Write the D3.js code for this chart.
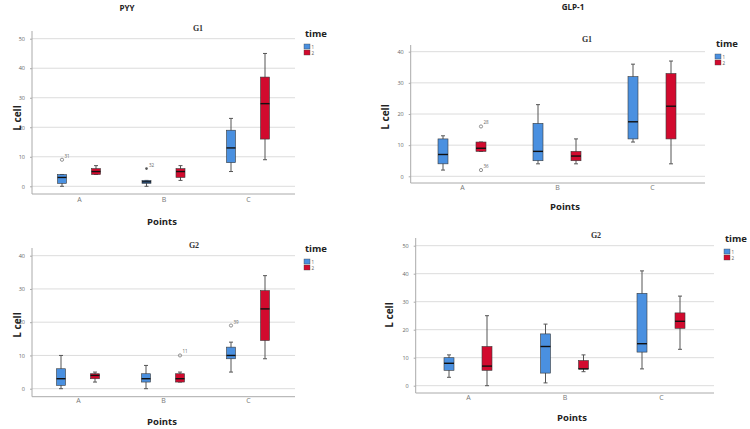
<!DOCTYPE html>
<html>
<head>
<meta charset="utf-8">
<script src="https://cdn.jsdelivr.net/npm/d3@7"></script>
<style>
  body { margin: 0; background: #fff; }
  svg text { font-family: "Open Sans", "Liberation Sans", sans-serif; }
</style>
</head>
<body>
<svg id="plot"></svg>
<script>
// data: boxes as [min, q1, median, q3, max]
const categories = ["A", "B", "C"];
const timeLevels = ["1", "2"];

const pyyG1Time1 = [[0, 1, 3, 4, 4], [0, 1, 1.5, 2, 2], [5, 8, 13, 19, 23]];
const pyyG1Time2 = [[4, 4, 5, 6, 7], [2, 3, 5, 6, 7], [9, 16, 28, 37, 45]];
const pyyG1Outliers = [
    { cat: "A", time: "1", value: 9, label: "31", mark: "o" },
    { cat: "B", time: "1", value: 6, label: "32", mark: "*" }
];
const pyyG1Ticks = [0, 10, 20, 30, 40, 50];

const pyyG2Time1 = [[0, 1, 3, 6, 10], [0, 2, 3, 4.5, 7], [5, 9, 10, 12.5, 14]];
const pyyG2Time2 = [[2, 3, 4, 4.5, 5], [2, 2, 3, 4.5, 5], [9, 14.5, 24, 29.5, 34]];
const pyyG2Outliers = [
    { cat: "B", time: "2", value: 10, label: "11", mark: "o" },
    { cat: "C", time: "1", value: 19, label: "39", mark: "o" }
];
const pyyG2Ticks = [0, 10, 20, 30, 40];

const glpG1Time1 = [[2, 4, 7, 12, 13], [4, 5, 8, 17, 23], [11, 12, 17.5, 32, 36]];
const glpG1Time2 = [[8, 8, 9, 11, 11], [4, 5, 6.5, 8, 12], [4, 12, 22.5, 33, 37]];
const glpG1Outliers = [
    { cat: "A", time: "2", value: 16, label: "28", mark: "o" },
    { cat: "A", time: "2", value: 2, label: "36", mark: "o" }
];
const glpG1Ticks = [0, 10, 20, 30, 40];

const glpG2Time1 = [[3, 5.5, 8, 10, 11], [1, 4.5, 14, 18.5, 22], [6, 12, 15, 33, 41]];
const glpG2Time2 = [[0, 5.5, 7, 14, 25], [5, 6, 6, 9, 11], [13, 20.5, 23, 26, 32]];
const glpG2Outliers = [];
const glpG2Ticks = [0, 10, 20, 30, 40, 50];

const color = d3.scaleOrdinal().domain(timeLevels).range(["#4a90e0", "#d20a2e"]);

const svg = d3.select("#plot").attr("width", 750).attr("height", 429);

// layout of each panel
const panels = [
    { title: "G1", t1: pyyG1Time1, t2: pyyG1Time2, outliers: pyyG1Outliers, ticks: pyyG1Ticks,
      left: 32, right: 295, top: 31, bottom: 194, y0: 186.3, yTop: 38.7,
      catRange: [79, 248], offset: 17, boxW: 9,
      titleX: 198, titleY: 31, legendX: 304, legendY: 37, ylabX: 17, ylabY: 118,
      catY: 204, pointsX: 162, pointsY: 225 },
    { title: "G2", t1: pyyG2Time1, t2: pyyG2Time2, outliers: pyyG2Outliers, ticks: pyyG2Ticks,
      left: 32, right: 295, top: 248, bottom: 396.7, y0: 388.7, yTop: 255.7,
      catRange: [78, 248], offset: 17, boxW: 9,
      titleX: 194, titleY: 248, legendX: 304, legendY: 252, ylabX: 17, ylabY: 325,
      catY: 405, pointsX: 162, pointsY: 425 },
    { title: "G1", t1: glpG1Time1, t2: glpG1Time2, outliers: glpG1Outliers, ticks: glpG1Ticks,
      left: 410.7, right: 705, top: 45, bottom: 183, y0: 176.3, yTop: 51.7,
      catRange: [462, 652], offset: 19, boxW: 10,
      titleX: 587, titleY: 42, legendX: 715, legendY: 47, ylabX: 385, ylabY: 117,
      catY: 192, pointsX: 565, pointsY: 210 },
    { title: "G2", t1: glpG2Time1, t2: glpG2Time2, outliers: glpG2Outliers, ticks: glpG2Ticks,
      left: 415.7, right: 714, top: 238, bottom: 393, y0: 385.7, yTop: 245.7,
      catRange: [468, 661], offset: 19, boxW: 10,
      titleX: 596, titleY: 238, legendX: 724, legendY: 242, ylabX: 389, ylabY: 315,
      catY: 402, pointsX: 572, pointsY: 421 }
];

// section headings
svg.append("text").attr("x", 127).attr("y", 11).attr("text-anchor", "middle")
    .style("font-size", "8px").style("font-weight", "bold").attr("fill", "#222").text("PYY");
svg.append("text").attr("x", 573).attr("y", 10).attr("text-anchor", "middle")
    .style("font-size", "8px").style("font-weight", "bold").attr("fill", "#222").text("GLP-1");

panels.forEach(function (p) {
    const g = svg.append("g");
    const maxTick = p.ticks[p.ticks.length - 1];

    const yScale = d3.scaleLinear().domain([0, maxTick]).range([p.y0, p.yTop]);
    const xScale = d3.scalePoint().domain(categories).range(p.catRange);
    const tScale = d3.scalePoint().domain(timeLevels).range([-p.offset, p.offset]);

    // gridlines
    g.selectAll(".grid")
        .data(p.ticks)
        .enter().append("line")
        .attr("x1", p.left).attr("x2", p.right)
        .attr("y1", d => yScale(d)).attr("y2", d => yScale(d))
        .attr("stroke", "#dcdcdc").attr("stroke-width", 1);

    // y-axis
    const yAxis = d3.axisLeft(yScale).tickValues(p.ticks).tickSize(2).tickPadding(5);
    const ya = g.append("g").attr("transform", `translate(${p.left},0)`).call(yAxis);
    ya.select(".domain").remove();
    ya.selectAll("line").attr("stroke", "#aaa");
    ya.selectAll("text").style("font-size", "5.5px").attr("fill", "#666");
    g.append("line").attr("x1", p.left).attr("x2", p.left)
        .attr("y1", p.top).attr("y2", p.bottom).attr("stroke", "#aaa");

    // x-axis
    const xAxis = d3.axisBottom(xScale).tickSize(0).tickPadding(0);
    const xa = g.append("g").attr("transform", `translate(0,${p.catY - 7})`).call(xAxis);
    xa.select(".domain").remove();
    xa.selectAll("text").style("font-size", "7px").attr("fill", "#777").attr("dy", "0.71em");
    g.append("line").attr("x1", p.left).attr("x2", p.right)
        .attr("y1", p.bottom).attr("y2", p.bottom).attr("stroke", "#aaa");

    // boxes
    const boxes = [];
    p.t1.forEach((s, i) => boxes.push({ cat: categories[i], time: "1", s: s }));
    p.t2.forEach((s, i) => boxes.push({ cat: categories[i], time: "2", s: s }));

    const bg = g.selectAll(".box")
        .data(boxes)
        .enter().append("g")
        .attr("transform", d => `translate(${xScale(d.cat) + tScale(d.time)},0)`);

    bg.append("line")
        .attr("y1", d => yScale(d.s[0])).attr("y2", d => yScale(d.s[4]))
        .attr("stroke", "#555").attr("stroke-width", 1);
    bg.append("line")
        .attr("x1", -2).attr("x2", 2)
        .attr("y1", d => yScale(d.s[0])).attr("y2", d => yScale(d.s[0]))
        .attr("stroke", "#555").attr("stroke-width", 1);
    bg.append("line")
        .attr("x1", -2).attr("x2", 2)
        .attr("y1", d => yScale(d.s[4])).attr("y2", d => yScale(d.s[4]))
        .attr("stroke", "#555").attr("stroke-width", 1);
    bg.append("rect")
        .attr("x", -p.boxW / 2).attr("width", p.boxW)
        .attr("y", d => yScale(d.s[3]))
        .attr("height", d => yScale(d.s[1]) - yScale(d.s[3]))
        .attr("fill", d => color(d.time))
        .attr("stroke", "#3a3a3a").attr("stroke-width", 0.6);
    bg.append("line")
        .attr("x1", -p.boxW / 2).attr("x2", p.boxW / 2)
        .attr("y1", d => yScale(d.s[2])).attr("y2", d => yScale(d.s[2]))
        .attr("stroke", "#111").attr("stroke-width", 1.4);

    // outliers
    const og = g.selectAll(".outlier")
        .data(p.outliers)
        .enter().append("g")
        .attr("transform", d => `translate(${xScale(d.cat) + tScale(d.time)},${yScale(d.value)})`);
    og.filter(d => d.mark === "o").append("circle")
        .attr("r", 1.6).attr("fill", "none").attr("stroke", "#666").attr("stroke-width", 0.7);
    og.filter(d => d.mark === "*").append("circle")
        .attr("r", 1.3).attr("fill", "#555");
    og.append("text")
        .attr("x", 2.5).attr("y", -2)
        .style("font-size", "4.5px").attr("fill", "#666")
        .text(d => d.label);

    // panel title
    g.append("text")
        .attr("x", p.titleX).attr("y", p.titleY)
        .attr("text-anchor", "middle")
        .style("font-family", "'Liberation Serif', serif")
        .style("font-size", "8px").style("font-weight", "bold").attr("fill", "#333")
        .text(p.title);

    // y label
    g.append("text")
        .attr("transform", `translate(${p.ylabX + 3.5},${p.ylabY}) rotate(-90)`)
        .attr("text-anchor", "middle")
        .style("font-size", "10px").style("font-weight", "bold").attr("fill", "#222")
        .text("L cell");

    // x label
    g.append("text")
        .attr("x", p.pointsX).attr("y", p.pointsY)
        .attr("text-anchor", "middle")
        .style("font-size", "9.5px").style("font-weight", "bold").attr("fill", "#222")
        .text("Points");

    // legend
    g.append("text")
        .attr("x", p.legendX + 1).attr("y", p.legendY)
        .style("font-size", "9.5px").style("font-weight", "bold").attr("fill", "#222")
        .text("time");
    const lg = g.selectAll(".leg")
        .data(timeLevels)
        .enter().append("g")
        .attr("transform", (d, i) => `translate(${p.legendX},${p.legendY + 7 + i * 6})`);
    lg.append("rect")
        .attr("width", 6).attr("height", 5)
        .attr("fill", d => color(d)).attr("stroke", "#444").attr("stroke-width", 0.4);
    lg.append("text")
        .attr("x", 7.5).attr("y", 4.5)
        .style("font-size", "4.5px").attr("fill", "#555")
        .text(d => d);
});
</script>
</body>
</html>
